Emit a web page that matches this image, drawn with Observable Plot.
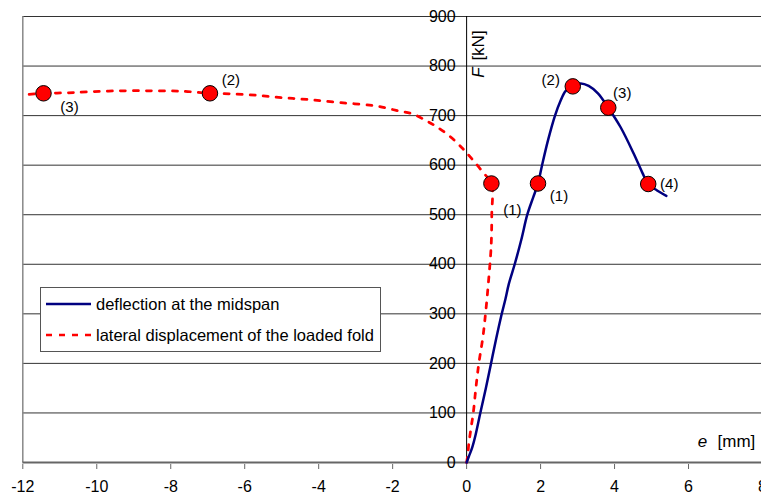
<!DOCTYPE html>
<html>
<head>
<meta charset="utf-8">
<script src="https://cdn.jsdelivr.net/npm/d3@7"></script>
<script src="https://cdn.jsdelivr.net/npm/@observablehq/plot@0.6"></script>
<style>
  body { margin: 0; background: #fff; }
  #chart { width: 761px; height: 494px; overflow: hidden; }
</style>
</head>
<body>
<div id="chart"></div>
<script>
// Axis ticks
const xTicks = [-12, -10, -8, -6, -4, -2, 0, 2, 4, 6, 8];
const yTicks = [0, 100, 200, 300, 400, 500, 600, 700, 800, 900];

// Load F [kN] against deflection at the midspan e [mm]
const midE = [0, 0.06, 0.15, 0.24, 0.37, 0.52, 0.66, 0.8, 0.95, 1.05, 1.14, 1.3, 1.48, 1.64, 1.8, 1.93,
  2.04, 2.2, 2.39, 2.54, 2.68, 2.87, 3.08, 3.3, 3.55, 3.83, 4.16, 4.52, 4.75, 4.91, 5.15, 5.4];
const midF = [0, 12, 30, 55, 100, 150, 200, 250, 300, 330, 360, 400, 450, 500, 535, 563,
  600, 650, 700, 730, 750, 759, 765, 760, 745, 716, 677, 623, 585, 562, 549, 538];

// Load F [kN] against lateral displacement of the loaded fold e [mm]
const latE = [0, 0.03, 0.06, 0.12, 0.18, 0.25, 0.33, 0.44, 0.52, 0.59, 0.65, 0.67, 0.68, 0.67,
  0.45, 0.15, -0.1, -0.45, -0.8, -1.1, -1.45, -1.87, -2.5, -3.4, -4.22, -4.94, -5.66, -6.38, -6.94,
  -7.65, -8.46, -9.36, -10.27, -10.81, -11.44, -11.83];
const latF = [0, 15, 38, 70, 100, 150, 200, 253, 307, 364, 420, 450, 500, 563,
  585, 612, 633, 658, 677, 690, 703, 710, 720, 726, 732, 736, 741, 744, 745,
  749, 750, 750, 748, 746, 745, 743];

// Marked load stages
const stageE = [1.93, 2.87, 3.83, 4.91, 0.67, -6.94, -11.44];
const stageF = [563, 759, 716, 562, 563, 745, 745];
const stageLabel = ["(1)", "(2)", "(3)", "(4)", "(1)", "(2)", "(3)"];

const seriesNames = ["deflection at the midspan", "lateral displacement of the loaded fold"];

// Label placement next to each stage marker (pixels)
const stageNudge = [[21, 13], [-22, -6], [14, -14], [21, 0], [21, 27], [21, -13], [26, 14]];

const FONT = "Arial, 'Liberation Sans', sans-serif";
const BLUE = "#000080";
const RED = "#ff0000";

const midIdx = d3.range(midE.length);
const latIdx = d3.range(latE.length);
const stageIdx = d3.range(stageE.length);

const chart = Plot.plot({
  width: 761,
  height: 494,
  style: { fontFamily: FONT, fontSize: "16px", color: "#000", background: "#fff" },
  x: { domain: [-12, 8], range: [22.3, 762] },
  y: { domain: [0, 900], range: [462, 16], axis: null },
  marks: [
    // horizontal gridlines across the whole e range
    Plot.ruleY(yTicks.filter(d => d > 0), { x1: -12, x2: 8, stroke: "#333", strokeWidth: 1 }),
    // left frame
    Plot.ruleX([-12], { y1: 0, y2: 900, stroke: "#888", strokeWidth: 1.5 }),
    // vertical axis through e = 0
    Plot.ruleX([0], { y1: 0, y2: 900, stroke: "#000", strokeWidth: 1 }),
    // horizontal axis
    Plot.ruleY([0], { x1: -12, x2: 8, stroke: "#666", strokeWidth: 2 }),
    Plot.axisX(xTicks, {
      tickSize: 5, tickPadding: 11, stroke: "#666", fill: "#000",
      fontSize: 16, tickFormat: d => String(d), label: null
    }),
    // F tick labels beside the vertical axis
    Plot.text(yTicks, { x: 0, y: d => d, text: d => String(d), textAnchor: "end", dx: -11, fontSize: 16, fill: "#000" }),
    // curves
    Plot.line(latIdx, {
      x: i => latE[i], y: i => latF[i], stroke: RED, strokeWidth: 2.75,
      strokeDasharray: "5,8", curve: "catmull-rom"
    }),
    Plot.line(midIdx, {
      x: i => midE[i], y: i => midF[i], stroke: BLUE, strokeWidth: 2.5, curve: "catmull-rom"
    }),
    // stage markers
    Plot.dot(stageIdx, {
      x: i => stageE[i], y: i => stageF[i], r: 7.75, fill: RED, stroke: "#000", strokeWidth: 1
    }),
    ...stageIdx.map(i => Plot.text([i], {
      x: j => stageE[j], y: j => stageF[j], text: j => stageLabel[j],
      dx: stageNudge[i][0], dy: stageNudge[i][1], fontSize: 15, fill: "#000"
    })),
    // axis titles
    Plot.text(["e"], { x: 8, y: 0, dx: -60, dy: -21, fontSize: 17, fontStyle: "italic", fill: "#000" }),
    Plot.text(["[mm]"], { x: 8, y: 0, dx: -45, dy: -21, textAnchor: "start", fontSize: 17, fill: "#000" }),
    Plot.text(["F"], { x: 0, y: 900, dx: 12, dy: 56, rotate: -90, fontSize: 17, fontStyle: "italic", fill: "#000" }),
    Plot.text(["[kN]"], { x: 0, y: 900, dx: 12, dy: 29, rotate: -90, fontSize: 17, fill: "#000" })
  ]
});

document.getElementById("chart").appendChild(chart);

// Legend box inside the plotting area
const svg = d3.select(chart);
const legend = svg.append("g")
  .attr("font-family", FONT).attr("font-size", 16.5).attr("text-anchor", "start");
legend.append("rect")
  .attr("x", 40.5).attr("y", 287.5).attr("width", 340).attr("height", 64)
  .attr("fill", "#fff").attr("stroke", "#555").attr("stroke-width", 1);
const rows = [
  { name: seriesNames[0], stroke: BLUE, dash: null, y: 304 },
  { name: seriesNames[1], stroke: RED, dash: "6,7", y: 335 }
];
rows.forEach(r => {
  legend.append("line")
    .attr("x1", 46).attr("x2", 91).attr("y1", r.y).attr("y2", r.y)
    .attr("stroke", r.stroke).attr("stroke-width", 2.5)
    .attr("stroke-dasharray", r.dash);
  legend.append("text")
    .attr("x", 96).attr("y", r.y).attr("dy", "0.35em")
    .attr("fill", "#000").text(r.name);
});
</script>
</body>
</html>
